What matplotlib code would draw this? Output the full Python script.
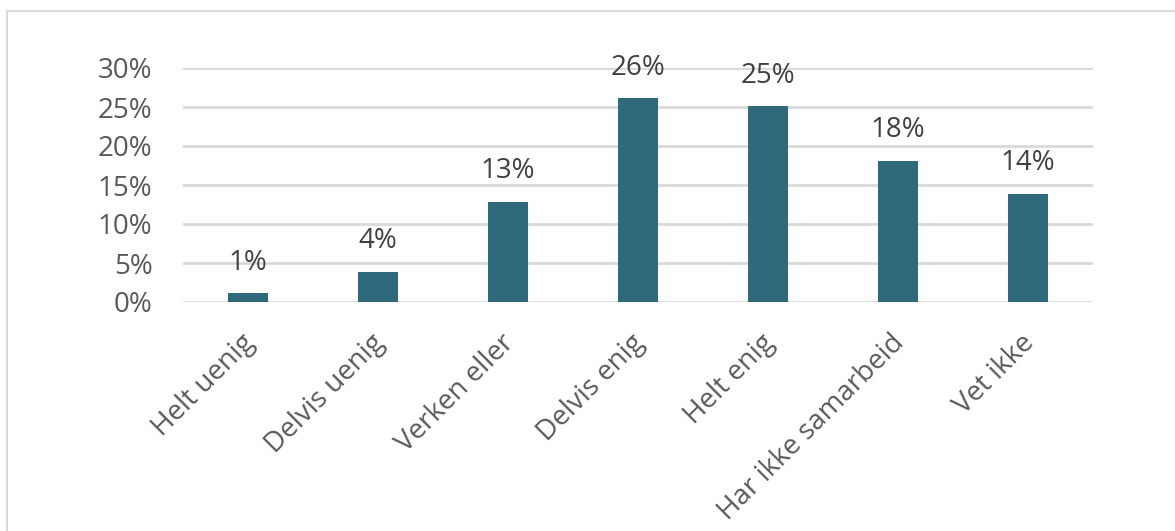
import matplotlib.pyplot as plt
from matplotlib.patches import Rectangle
from matplotlib.transforms import ScaledTranslation

categories = ["Helt uenig", "Delvis uenig", "Verken eller", "Delvis enig",
              "Helt enig", "Har ikke samarbeid", "Vet ikke"]
values = [1.1, 3.9, 12.8, 26.1, 25.1, 18.1, 13.9]
value_labels = ["1%", "4%", "13%", "26%", "25%", "18%", "14%"]
y_ticks = [0, 5, 10, 15, 20, 25, 30]
y_tick_labels = ["0%", "5%", "10%", "15%", "20%", "25%", "30%"]

plt.rcParams['font.family'] = ['Open Sans', 'DejaVu Sans']

fig = plt.figure(figsize=(11.75, 5.31), dpi=100)
# outer chart frame
fig.patches.append(Rectangle((7 / 1175, -0.1), 1.2, 1 - 11 / 531 + 0.1,
                             transform=fig.transFigure, fill=False,
                             edgecolor='#d9d9d9', linewidth=1.5))

ax = fig.add_axes([183 / 1175, 1 - 302 / 531, 910 / 1175, 234 / 531])
x = range(len(categories))
ax.bar(x, values, width=0.315, color='#2f6a7c', zorder=3)
for xi, v, lab in zip(x, values, value_labels):
    ax.annotate(lab, (xi, v), xytext=(0, 12), textcoords='offset points',
                ha='center', va='bottom', fontsize=20, color='#404040')

ax.set_xlim(-0.5, len(categories) - 0.5)
ax.set_ylim(0, 30)
ax.set_yticks(y_ticks)
ax.set_yticklabels(y_tick_labels, fontsize=20, color='#595959')
ax.set_xticks(list(x))
ax.set_xticklabels(categories, rotation=45, ha='right', rotation_mode='anchor',
                   fontsize=20, color='#595959')
ax.tick_params(length=0)
ax.tick_params(axis='y', pad=22)
ax.tick_params(axis='x', pad=14)
# nudge the rotated labels down-left along their direction (after tick_params)
shift = ScaledTranslation(-0.08, -0.08, fig.dpi_scale_trans)
for t in ax.get_xticklabels():
    t.set_transform(t.get_transform() + shift)
ax.grid(axis='y', color='#d9d9d9', linewidth=2, zorder=0)
for s in ax.spines.values():
    s.set_visible(False)

fig.savefig('out.png', dpi=100)
